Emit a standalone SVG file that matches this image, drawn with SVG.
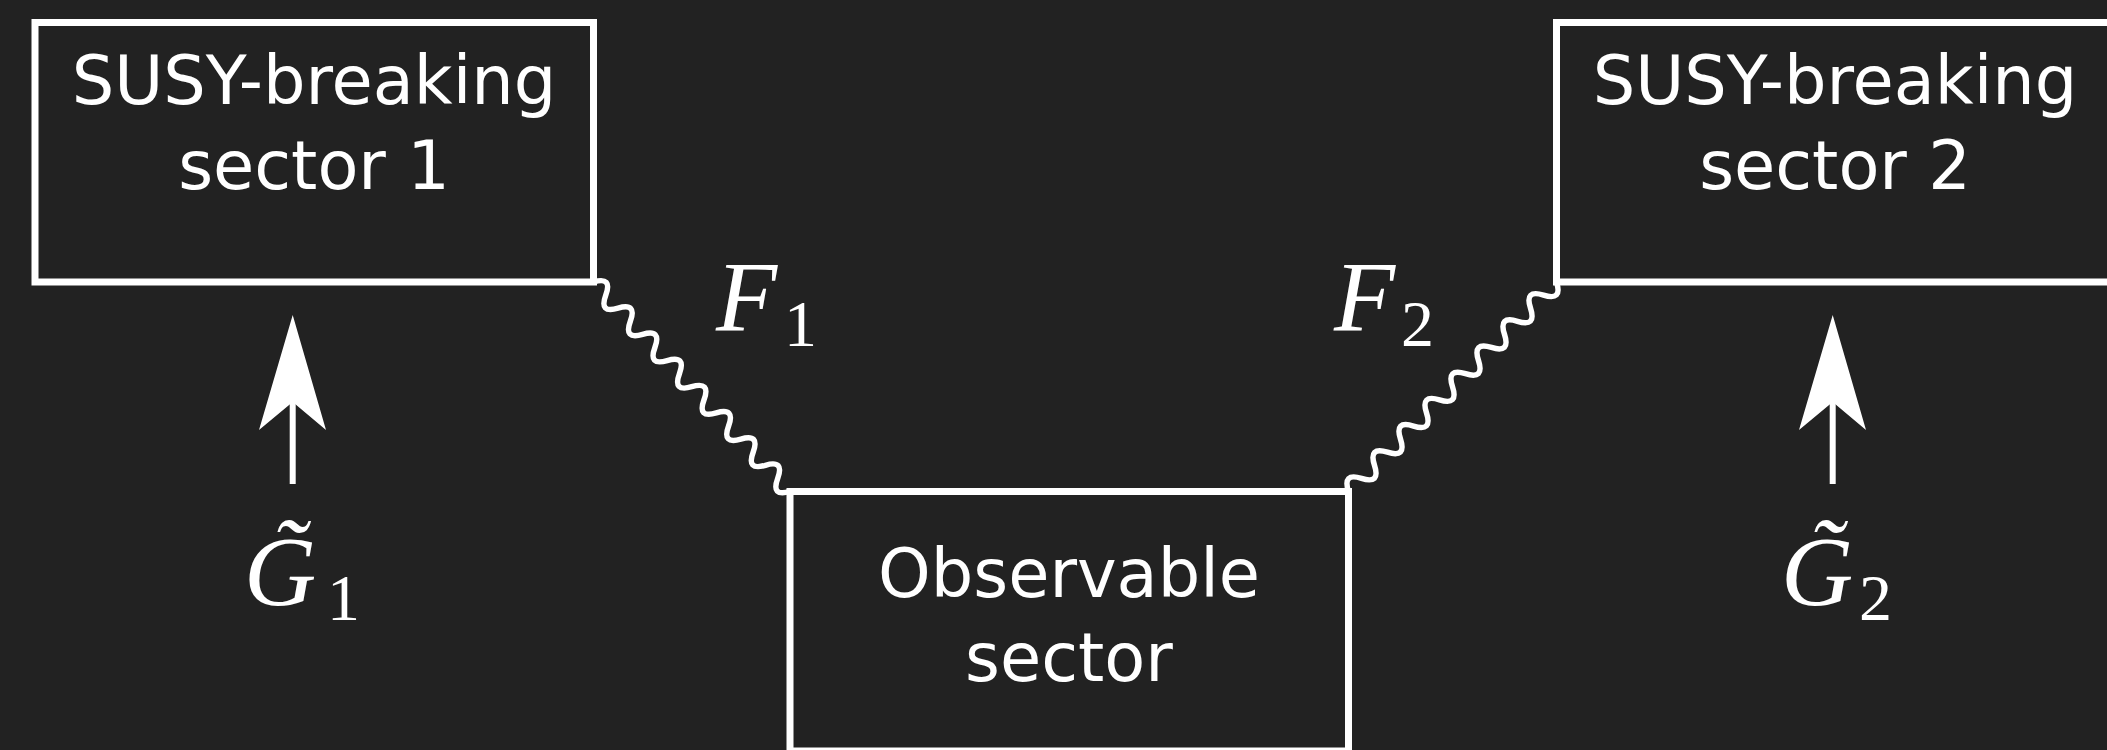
<svg xmlns="http://www.w3.org/2000/svg" width="2107" height="750" viewBox="0 0 2107 750">
<style>
.box{fill:#222222;stroke:#ffffff;stroke-width:7}
.lbl{font-family:"DejaVu Sans",sans-serif;font-size:67px;fill:#ffffff;text-anchor:middle}
.math{font-family:"Liberation Serif","DejaVu Serif",serif;font-style:italic;font-size:100px;fill:#ffffff}
.sub{font-family:"Liberation Serif","DejaVu Serif",serif;font-size:66px;fill:#ffffff}
.wig{fill:none;stroke:#ffffff;stroke-width:5.5;stroke-linejoin:round}
.shaft{stroke:#ffffff;stroke-width:6}
.head{fill:#ffffff}
</style>
<rect x="0" y="0" width="2107" height="750" fill="#222222"/>
<g id="sector1">
<rect class="box" x="35" y="22.5" width="558.5" height="259.5"/>
<text class="lbl" x="314" y="104">SUSY-breaking</text>
<text class="lbl" x="314" y="189">sector 1</text>
</g>
<g id="sector2">
<rect class="box" x="1556.5" y="22.5" width="558.5" height="259.5"/>
<text class="lbl" x="1835" y="104">SUSY-breaking</text>
<text class="lbl" x="1835" y="189">sector 2</text>
</g>
<g id="observable">
<rect class="box" x="790" y="491.5" width="558.5" height="259.5"/>
<text class="lbl" x="1069" y="597">Observable</text>
<text class="lbl" x="1069" y="681">sector</text>
</g>
<g id="connectors">
<path class="wig" transform="translate(593.5,282) rotate(46.83)" d="M0,0 q9,-18 17.95,0 t17.95,0 t17.95,0 t17.95,0 t17.95,0 t17.95,0 t17.95,0 t17.95,0 t17.95,0 t17.95,0 t17.95,0 t17.95,0 t17.95,0 t17.95,0 t17.95,0 t17.95,0"/>
<path class="wig" transform="translate(1348.5,491.5) rotate(-45.2)" d="M0,0 q9.2,-18 18.45,0 t18.45,0 t18.45,0 t18.45,0 t18.45,0 t18.45,0 t18.45,0 t18.45,0 t18.45,0 t18.45,0 t18.45,0 t18.45,0 t18.45,0 t18.45,0 t18.45,0 t18.45,0"/>
<g id="label-F1"><text class="math" x="716" y="330">F</text><text class="sub" x="784" y="346">1</text></g>
<g id="label-F2"><text class="math" x="1334" y="330">F</text><text class="sub" x="1401" y="346">2</text></g>
<g id="arrow1">
<line class="shaft" x1="292.7" y1="400" x2="292.7" y2="484"/>
<polygon class="head" points="292.7,315 326,430 292.7,402 259,430"/>
</g>
<g id="arrow2">
<line class="shaft" x1="1832.7" y1="400" x2="1832.7" y2="484"/>
<polygon class="head" points="1832.7,315 1866,430 1832.7,402 1799,430"/>
</g>
<g id="label-G1"><text class="math" x="244" y="605">G&#771;</text><text class="sub" x="327" y="620">1</text></g>
<g id="label-G2"><text class="math" x="1781" y="605">G&#771;</text><text class="sub" x="1859" y="620">2</text></g>
</g>
</svg>
